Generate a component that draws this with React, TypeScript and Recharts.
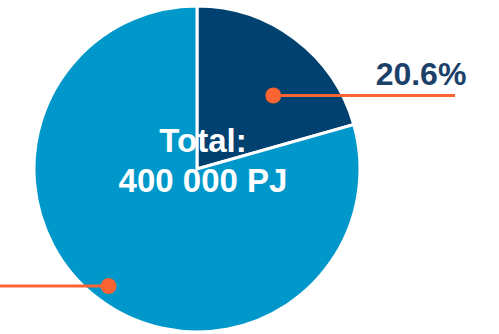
import { Cell, Pie, PieChart } from "recharts"

const shares = ["20.6%", "79.4%"]
const values = [20.6, 79.4]
const colors = ["#00416f", "#0098cb"]
const centerLines = ["Total:", "400 000 PJ"]

const data = values.map((value, i) => ({ name: shares[i], value }))

const RAD = Math.PI / 180
const ORANGE = "#f96432"
const FONT = "'Liberation Sans', Arial, sans-serif"

// dot placement per slice: angle offset (deg) and radius fraction
const dotPlacement = [
  { dAngle: -9, r: 0.65, lineTo: 455, showText: true },
  { dAngle: 0, r: 0.9, lineTo: 0, showText: false },
]

function renderLabel(props: any) {
  const { cx, cy, midAngle, outerRadius, index } = props
  const p = dotPlacement[index]
  const a = (midAngle + p.dAngle) * RAD
  const x = cx + outerRadius * p.r * Math.cos(a)
  const y = cy - outerRadius * p.r * Math.sin(a)
  return (
    <g key={`lbl-${index}`}>
      <line x1={x} y1={y} x2={p.lineTo} y2={y} stroke={ORANGE} strokeWidth={3} />
      <circle cx={x} cy={y} r={8} fill={ORANGE} />
      {p.showText && (
        <text x={421} y={y - 11} textAnchor="middle" fill="#1c4169" fontSize={32} fontWeight="bold" fontFamily={FONT}>
          {shares[index]}
        </text>
      )}
      {index === 0 && (
        <text x={cx + 6} y={cy} textAnchor="middle" fill="#ffffff" fontSize={33} fontWeight="bold" fontFamily={FONT}>
          <tspan x={cx + 6} dy={-17}>{centerLines[0]}</tspan>
          <tspan x={cx + 6} dy={40}>{centerLines[1]}</tspan>
        </text>
      )}
    </g>
  )
}

export default function App() {
  return (
    <div style={{ position: "absolute", left: 0, top: 0, width: 499, height: 334, background: "#fff" }}>
      <PieChart width={499} height={334} margin={{ top: 0, right: 0, bottom: 0, left: 0 }}>
        <Pie
          data={data}
          dataKey="value"
          cx={197}
          cy={169}
          outerRadius={163}
          startAngle={90}
          endAngle={-270}
          stroke="#ffffff"
          strokeWidth={3}
          label={renderLabel}
          labelLine={false}
          isAnimationActive={false}
        >
          {data.map((d, i) => (
            <Cell key={d.name} fill={colors[i]} />
          ))}
        </Pie>
      </PieChart>
    </div>
  )
}
